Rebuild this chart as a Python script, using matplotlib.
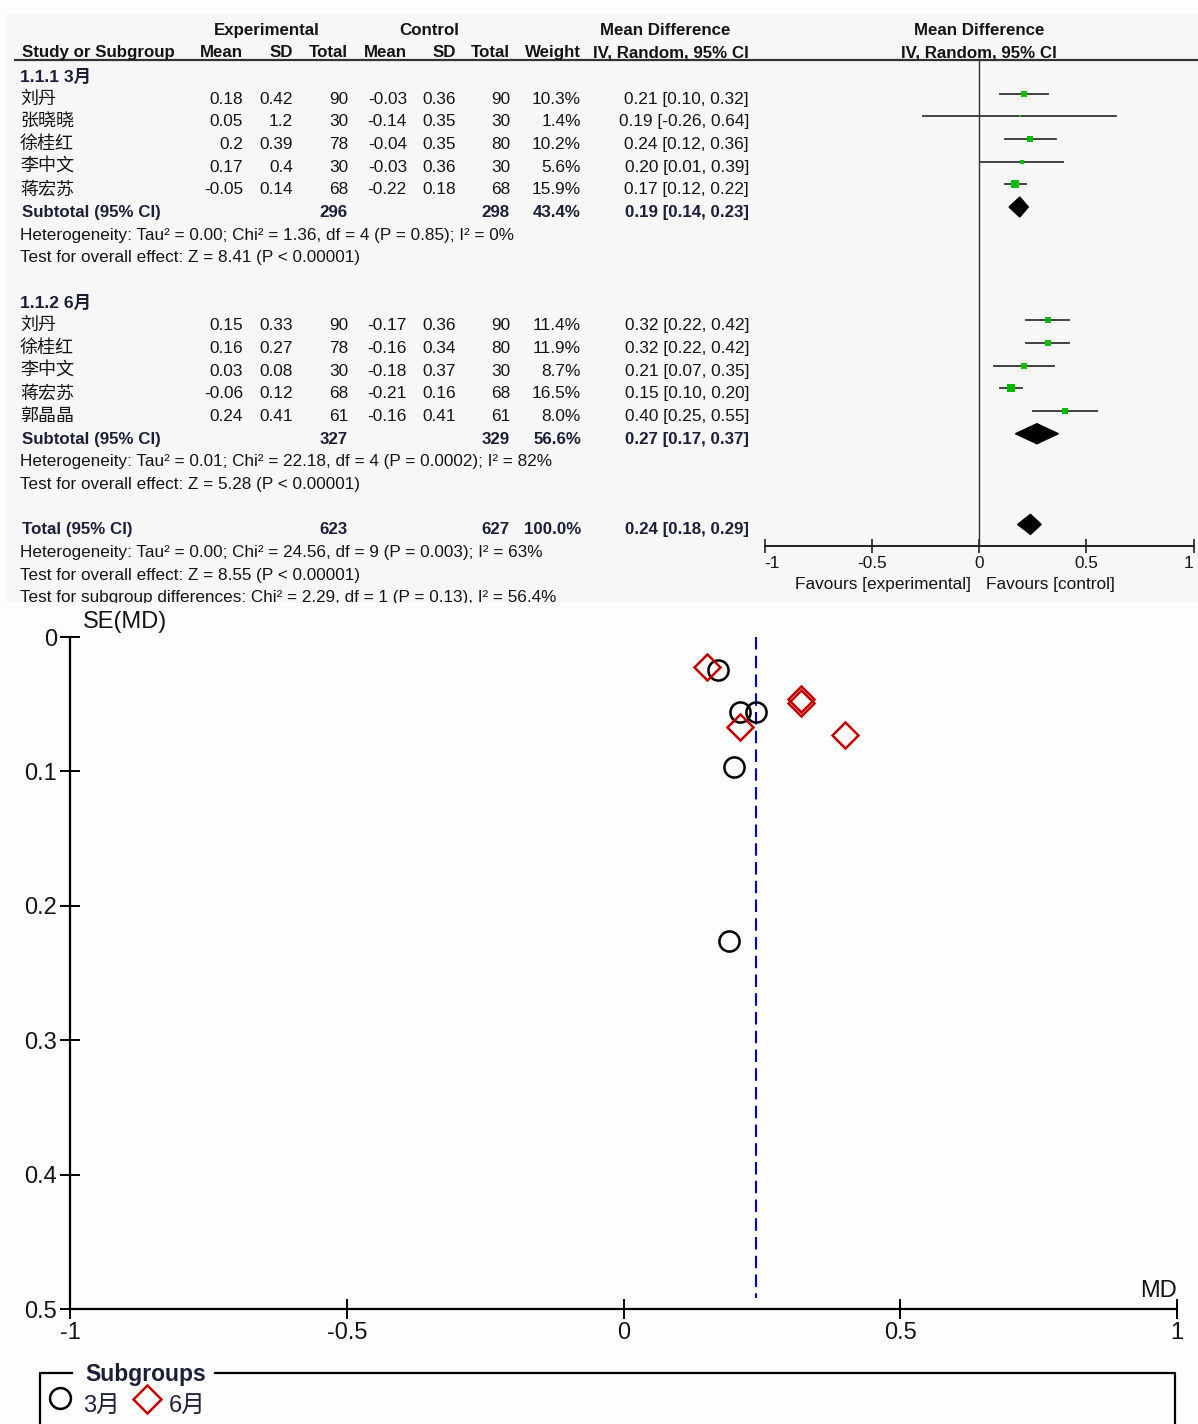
import matplotlib
matplotlib.use("Agg")
import matplotlib.pyplot as plt
from matplotlib.lines import Line2D
from matplotlib.patches import Rectangle, Polygon
import numpy as np

plt.rcParams["font.family"] = ["Liberation Sans", "Noto Sans CJK SC", "DejaVu Sans"]

## study data, two follow-up subgroups
groups = ["1.1.1 3月", "1.1.2 6月"]
names = [
    ["刘丹", "张晓晓", "徐桂红", "李中文", "蒋宏苏"],
    ["刘丹", "徐桂红", "李中文", "蒋宏苏", "郭晶晶"],
]
exp_mean = [[0.18, 0.05, 0.2, 0.17, -0.05], [0.15, 0.16, 0.03, -0.06, 0.24]]
exp_sd = [[0.42, 1.2, 0.39, 0.4, 0.14], [0.33, 0.27, 0.08, 0.12, 0.41]]
exp_n = [[90, 30, 78, 30, 68], [90, 78, 30, 68, 61]]
ctl_mean = [[-0.03, -0.14, -0.04, -0.03, -0.22], [-0.17, -0.16, -0.18, -0.21, -0.16]]
ctl_sd = [[0.36, 0.35, 0.35, 0.36, 0.18], [0.36, 0.34, 0.37, 0.16, 0.41]]
ctl_n = [[90, 30, 80, 30, 68], [90, 80, 30, 68, 61]]
weight = [[10.3, 1.4, 10.2, 5.6, 15.9], [11.4, 11.9, 8.7, 16.5, 8.0]]
md = [[0.21, 0.19, 0.24, 0.20, 0.17], [0.32, 0.32, 0.21, 0.15, 0.40]]
ci_lo = [[0.10, -0.26, 0.12, 0.01, 0.12], [0.22, 0.22, 0.07, 0.10, 0.25]]
ci_hi = [[0.32, 0.64, 0.36, 0.39, 0.22], [0.42, 0.42, 0.35, 0.20, 0.55]]

sub_weight = [43.4, 56.6]
sub_md = [0.19, 0.27]
sub_lo = [0.14, 0.17]
sub_hi = [0.23, 0.37]
total_md, total_lo, total_hi = 0.24, 0.18, 0.29

sub_stats = [
    ["Heterogeneity: Tau² = 0.00; Chi² = 1.36, df = 4 (P = 0.85); I² = 0%",
     "Test for overall effect: Z = 8.41 (P < 0.00001)"],
    ["Heterogeneity: Tau² = 0.01; Chi² = 22.18, df = 4 (P = 0.0002); I² = 82%",
     "Test for overall effect: Z = 5.28 (P < 0.00001)"],
]
total_stats = [
    "Heterogeneity: Tau² = 0.00; Chi² = 24.56, df = 9 (P = 0.003); I² = 63%",
    "Test for overall effect: Z = 8.55 (P < 0.00001)",
    "Test for subgroup differences: Chi² = 2.29, df = 1 (P = 0.13), I² = 56.4%",
]

# funnel plot: standard errors per study
se = [[0.0558, 0.226, 0.0558, 0.0967, 0.0246], [0.0461, 0.049, 0.067, 0.0223, 0.073]]
# order of funnel points matches names
funnel_md = md

subgroup_labels = ["3月", "6月"]
x_ticks = [-1, -0.5, 0, 0.5, 1]
x_ticklabels = ["-1", "-0.5", "0", "0.5", "1"]
y_ticks = [0, 0.1, 0.2, 0.3, 0.4, 0.5]
y_ticklabels = ["0", "0.1", "0.2", "0.3", "0.4", "0.5"]

W, H = 1198, 1424
fig = plt.figure(figsize=(W / 100, H / 100), dpi=100)
fig.patch.set_facecolor("#fdfdfd")


def fx(x):
    return x / W


def fy(y):
    return 1 - y / H


def px_axes(left, top, right, bottom):
    return [left / W, 1 - bottom / H, (right - left) / W, (bottom - top) / H]


def txt(x, y, s, ha="left", bold=False, size=12.4, color="#141414", va="center", **kw):
    fig.text(fx(x), fy(y), s, ha=ha, va=va, fontsize=size,
             fontweight="bold" if bold else "normal", color=color, **kw)


INK = "#141414"
NAVY = "#1c2036"
HB = 12.2   # bold table text size

# grey panel behind the forest table
fig.patches.append(Rectangle((fx(6), fy(603)), fx(W - 6), (603 - 14) / H,
                             transform=fig.transFigure, facecolor="#f7f7f7",
                             edgecolor="none", zorder=-2))

# header, two lines on common baselines
head = dict(bold=True, size=HB, va="baseline")
txt(267, 35, "Experimental", ha="center", **head)
txt(429, 35, "Control", ha="center", **head)
txt(665, 35, "Mean Difference", ha="center", **head)
txt(979, 35, "Mean Difference", ha="center", **head)
txt(22, 57, "Study or Subgroup", **head)
col_x = [243, 293, 348, 407, 456, 510, 581, 749]
for cx, h in zip(col_x, ["Mean", "SD", "Total", "Mean", "SD", "Total", "Weight",
                         "IV, Random, 95% CI"]):
    txt(cx, 57, h, ha="right", **head)
txt(979, 57, "IV, Random, 95% CI", ha="center", **head)
fig.add_artist(Line2D([fx(15), fx(W)], [fy(60), fy(60)], color="#333333", lw=1.6))

# forest panel axes, data y in pixel rows
ax_f = fig.add_axes(px_axes(764.5, 60, 1193.5, 546))
ax_f.set_zorder(1)
ax_f.set_xlim(-1, 1)
ax_f.set_ylim(546, 60)
ax_f.patch.set_visible(False)
for s in ["top", "left", "right"]:
    ax_f.spines[s].set_visible(False)
ax_f.spines["bottom"].set_linewidth(1.4)
ax_f.spines["bottom"].set_color("#222222")
ax_f.set_yticks([])
ax_f.set_xticks(x_ticks)
ax_f.set_xticklabels(x_ticklabels, fontsize=12.4, color=INK)
ticklabels = ax_f.get_xticklabels()
ticklabels[0].set_ha("left")
ticklabels[-1].set_ha("right")
ax_f.tick_params(axis="x", direction="inout", length=10, width=1.2, pad=2,
                 color="#222222")
ax_f.axvline(0, color="#333333", lw=1.0)

txt(971, 585, "Favours [experimental]", ha="right")
txt(986, 585, "Favours [control]", ha="left")


def row_y(i):
    return 76.5 + 22.67 * i


MARK_SHIFT = -5.5   # marks sit a little above the text baseline row


def diamond(center, lo, hi, y, h=10):
    ax_f.add_patch(Polygon([(lo, y), (center, y - h), (hi, y), (center, y + h)],
                           closed=True, facecolor="black", edgecolor="black",
                           clip_on=False))


r = 0
for g in range(2):
    txt(20, row_y(r), groups[g], bold=True, size=12.6, color=NAVY)
    r += 1
    for k in range(5):
        y = row_y(r)
        txt(20, y, names[g][k], size=13)
        vals = [f"{exp_mean[g][k]:g}", f"{exp_sd[g][k]:g}", f"{exp_n[g][k]}",
                f"{ctl_mean[g][k]:g}", f"{ctl_sd[g][k]:g}", f"{ctl_n[g][k]}",
                f"{weight[g][k]:.1f}%",
                f"{md[g][k]:.2f} [{ci_lo[g][k]:.2f}, {ci_hi[g][k]:.2f}]"]
        for cx, v in zip(col_x, vals):
            txt(cx, y, v, ha="right")
        ym = y + MARK_SHIFT
        ax_f.plot([ci_lo[g][k], ci_hi[g][k]], [ym, ym], color="#333333", lw=1.3,
                  clip_on=False)
        side = 2.0 * np.sqrt(weight[g][k]) * 0.72
        ax_f.plot(md[g][k], ym, marker="s", ms=side, color="#00bb00", mew=0,
                  clip_on=False)
        r += 1
    y = row_y(r)
    txt(22, y, "Subtotal (95% CI)", bold=True, size=HB, color=NAVY)
    txt(348, y, f"{sum(exp_n[g])}", ha="right", bold=True, size=HB, color=NAVY)
    txt(510, y, f"{sum(ctl_n[g])}", ha="right", bold=True, size=HB, color=NAVY)
    txt(581, y, f"{sub_weight[g]:.1f}%", ha="right", bold=True, size=HB, color=NAVY)
    txt(749, y, f"{sub_md[g]:.2f} [{sub_lo[g]:.2f}, {sub_hi[g]:.2f}]", ha="right",
        bold=True, size=HB, color=NAVY)
    diamond(sub_md[g], sub_lo[g], sub_hi[g], y + MARK_SHIFT)
    r += 1
    for line in sub_stats[g]:
        txt(20, row_y(r), line, size=12.3)
        r += 1
    r += 1

y = row_y(r)
txt(22, y, "Total (95% CI)", bold=True, size=HB, color=NAVY)
txt(348, y, f"{sum(exp_n[0]) + sum(exp_n[1])}", ha="right", bold=True, size=HB, color=NAVY)
txt(510, y, f"{sum(ctl_n[0]) + sum(ctl_n[1])}", ha="right", bold=True, size=HB, color=NAVY)
txt(581, y, "100.0%", ha="right", bold=True, size=HB, color=NAVY)
txt(749, y, f"{total_md:.2f} [{total_lo:.2f}, {total_hi:.2f}]", ha="right",
    bold=True, size=HB, color=NAVY)
diamond(total_md, total_lo, total_hi, y + MARK_SHIFT)
r += 1
for line in total_stats:
    txt(20, row_y(r), line, size=12.3)
    r += 1

# lower panel covers the cut-off bottom line of the table
fig.patches.append(Rectangle((0, 0), 1, fy(603), transform=fig.transFigure,
                             facecolor="#fdfdfd", edgecolor="none", zorder=5))

# funnel plot
ax = fig.add_axes(px_axes(70, 637, 1177, 1309))
ax.set_zorder(6)
ax.patch.set_visible(False)
ax.set_xlim(-1, 1)
ax.set_ylim(0.5, 0)
for s in ["top", "right"]:
    ax.spines[s].set_visible(False)
for s in ["left", "bottom"]:
    ax.spines[s].set_linewidth(1.6)
    ax.spines[s].set_color("black")
ax.set_xticks(x_ticks)
ax.set_xticklabels(x_ticklabels)
ax.set_yticks(y_ticks)
ax.set_yticklabels(y_ticklabels)
ax.tick_params(direction="inout", length=15, width=1.4, labelsize=17,
               labelcolor=INK, pad=2)
ax.plot([total_md, total_md], [0, 0.492], color="#0000c8", lw=1.5,
        linestyle=(0, (6, 3)))
ax.plot(funnel_md[0], se[0], linestyle="none", marker="o", ms=14.5,
        mfc="none", mec="black", mew=1.8, clip_on=False)
ax.plot(funnel_md[1], se[1], linestyle="none", marker="D", ms=13,
        mfc="none", mec="#c00000", mew=1.8, clip_on=False)

txt(83, 622, "SE(MD)", size=17, zorder=7)
txt(1177, 1291, "MD", ha="right", size=17, zorder=7)

# subgroup legend box with the title breaking the top edge
box = dict(color="black", lw=1.6, transform=fig.transFigure, zorder=7)
fig.add_artist(Line2D([fx(72), fx(40), fx(40)], [fy(1373), fy(1373), fy(1430)], **box))
fig.add_artist(Line2D([fx(215), fx(1175), fx(1175)], [fy(1373), fy(1373), fy(1430)], **box))
txt(85, 1374, "Subgroups", bold=True, size=16.5, color=NAVY, zorder=7)
fig.add_artist(Line2D([fx(60)], [fy(1398)], marker="o", ms=15, mfc="none",
                      mec="black", mew=1.8, transform=fig.transFigure, zorder=7))
txt(83, 1406, subgroup_labels[0], size=17, color=NAVY, zorder=7)
fig.add_artist(Line2D([fx(147)], [fy(1399)], marker="D", ms=14, mfc="none",
                      mec="#c00000", mew=1.8, transform=fig.transFigure, zorder=7))
txt(169, 1406, subgroup_labels[1], size=17, color=NAVY, zorder=7)

plt.savefig("out.png", dpi=100, facecolor=fig.get_facecolor())
